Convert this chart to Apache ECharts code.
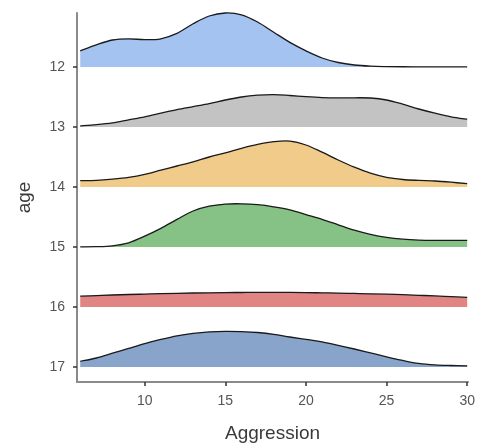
<!DOCTYPE html>
<html>
<head>
<meta charset="utf-8">
<script src="https://cdn.jsdelivr.net/npm/echarts@6/dist/echarts.min.js"></script>
<style>html,body{margin:0;padding:0;background:#fff}#c{width:478px;height:445px}</style>
</head>
<body>
<div id="c"></div>
<script>
var xValues = [6,7,8,9,10,11,12,13,14,15,16,17,18,19,20,21,22,23,24,25,26,27,28,29,30];
var ages = [12,13,14,15,16,17];
var xTicks = [10,15,20,25,30];
var dens12 = [0.27,0.37,0.45,0.47,0.455,0.47,0.56,0.72,0.85,0.9,0.87,0.75,0.58,0.41,0.27,0.15,0.075,0.033,0.014,0.007,0.004,0.003,0.002,0.002,0.002];
var dens13 = [0.02,0.04,0.07,0.12,0.17,0.23,0.29,0.34,0.39,0.45,0.5,0.53,0.54,0.525,0.505,0.49,0.485,0.487,0.483,0.45,0.38,0.3,0.23,0.17,0.13];
var dens14 = [0.105,0.11,0.13,0.16,0.21,0.28,0.35,0.42,0.5,0.57,0.645,0.71,0.755,0.765,0.7,0.58,0.45,0.33,0.23,0.16,0.125,0.11,0.1,0.08,0.055];
var dens15 = [0.003,0.005,0.02,0.07,0.18,0.31,0.46,0.6,0.68,0.715,0.72,0.705,0.67,0.62,0.54,0.46,0.37,0.28,0.21,0.16,0.13,0.115,0.11,0.11,0.11];
var dens16 = [0.18,0.19,0.2,0.208,0.215,0.222,0.228,0.233,0.237,0.24,0.242,0.244,0.245,0.243,0.24,0.236,0.232,0.226,0.22,0.213,0.205,0.195,0.185,0.172,0.16];
var dens17 = [0.095,0.15,0.23,0.31,0.39,0.46,0.52,0.56,0.585,0.595,0.59,0.575,0.545,0.5,0.46,0.42,0.36,0.3,0.235,0.17,0.11,0.06,0.035,0.025,0.02];
var densities = [dens12,dens13,dens14,dens15,dens16,dens17];
var colors = ['#A4C3F0','#C3C3C3','#F0CB8A','#86C286','#E08484','#88A4CB'];

function curvePath(pts) {
  // Catmull-Rom spline through the projected points, as cubic Bezier commands
  var d = '';
  for (var k = 0; k < pts.length - 1; k++) {
    var p0 = pts[Math.max(0, k - 1)], p1 = pts[k], p2 = pts[k + 1], p3 = pts[Math.min(pts.length - 1, k + 2)];
    var c1x = p1[0] + (p2[0] - p0[0]) / 6, c1y = p1[1] + (p2[1] - p0[1]) / 6;
    var c2x = p2[0] - (p3[0] - p1[0]) / 6, c2y = p2[1] - (p3[1] - p1[1]) / 6;
    d += ' C' + c1x + ' ' + c1y + ' ' + c2x + ' ' + c2y + ' ' + p2[0] + ' ' + p2[1];
  }
  return d;
}

var series = ages.map(function(age, i){
  return {
    type: 'custom', silent: true, z: 2 + i,
    data: [[xValues[0], age]],
    encode: {x: 0, y: 1},
    renderItem: function(params, api){
      var pts = xValues.map(function(x, j){ return api.coord([x, age - densities[i][j]]); });
      var b0 = api.coord([xValues[0], age]);
      var b1 = api.coord([xValues[xValues.length - 1], age]);
      var top = 'M' + pts[0][0] + ' ' + pts[0][1] + curvePath(pts);
      var fill = 'M' + b0[0] + ' ' + b0[1] + ' L' + pts[0][0] + ' ' + pts[0][1] + curvePath(pts) +
                 ' L' + b1[0] + ' ' + b1[1] + ' Z';
      return {
        type: 'group',
        children: [
          {type: 'path', shape: {pathData: fill}, style: {fill: colors[i], stroke: null}},
          {type: 'path', shape: {pathData: top}, style: {fill: null, stroke: '#1a1a1a', lineWidth: 1.3}}
        ]
      };
    }
  };
});

var chart = echarts.init(document.getElementById('c'));
chart.setOption({
  animation: false,
  grid: {left: 77, right: 10, top: 13, bottom: 63, containLabel: false, outerBoundsMode: 'none'},
  xAxis: {
    type: 'value', min: 5.8, max: 30.05,
    name: 'Aggression', nameLocation: 'middle', nameGap: 42,
    nameTextStyle: {fontFamily: 'Liberation Sans', fontSize: 19, color: '#3a3a3a'},
    axisLine: {show: true, onZero: false, lineStyle: {color: '#8a8a8a', width: 2}},
    axisTick: {show: true, length: 4, lineStyle: {color: '#333333', width: 1.5}, customValues: xTicks},
    axisLabel: {fontFamily: 'Liberation Sans', fontSize: 14, color: '#555555', margin: 12, customValues: xTicks},
    splitLine: {show: false}
  },
  yAxis: {
    type: 'value', inverse: true, min: 11.1, max: 17.25,
    name: 'age', nameLocation: 'middle', nameGap: 43, nameRotate: 90,
    nameTextStyle: {fontFamily: 'Liberation Sans', fontSize: 19, color: '#3a3a3a'},
    axisLine: {show: true, onZero: false, lineStyle: {color: '#8a8a8a', width: 2}},
    axisTick: {show: true, length: 4, lineStyle: {color: '#333333', width: 1.5}, customValues: ages},
    axisLabel: {fontFamily: 'Liberation Sans', fontSize: 14, color: '#555555', margin: 12, customValues: ages},
    splitLine: {show: false}
  },
  series: series
});
</script>
</body>
</html>
